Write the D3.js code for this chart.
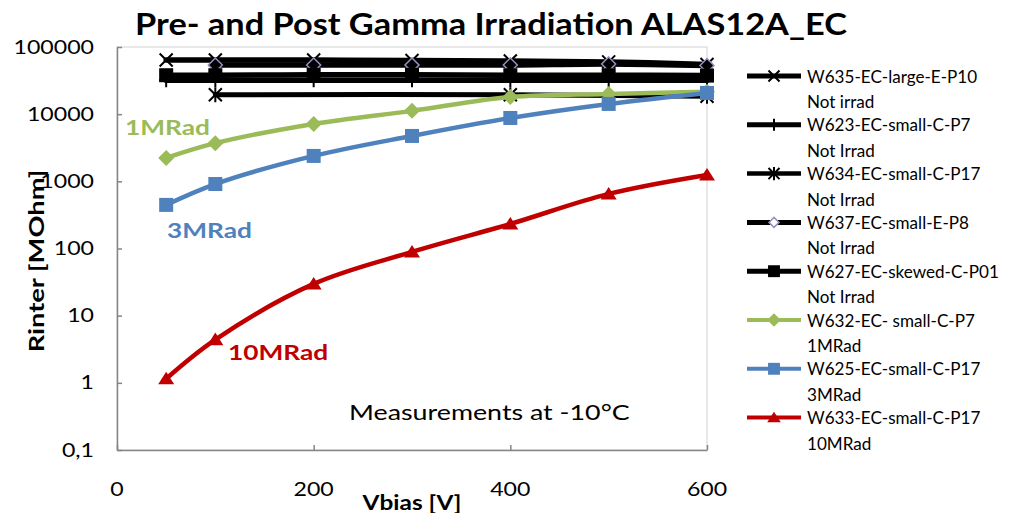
<!DOCTYPE html>
<html>
<head>
<meta charset="utf-8">
<script src="https://cdn.jsdelivr.net/npm/d3@7"></script>
<style>
  html, body { margin: 0; padding: 0; background: #fff; }
  svg { display: block; }
  text { font-family: Lato, "Open Sans", sans-serif; }
</style>
</head>
<body>
<svg id="chart" width="1021" height="513"></svg>
<script>
// Bias voltage points [V]
const voltages = [50, 100, 200, 300, 400, 500, 600];

// Inter-strip resistance [MOhm] per sample
const w635 = [64000, 64000, 64000, 63000, 62000, 60000, 55000];
const w623 = [32000, 32000, 32000, 32000, 32000, 32000, 32000];
const w634V = [100, 400, 600];
const w634 = [19500, 19500, 18500];
const w637V = [100, 200, 300, 400, 500, 600];
const w637 = [54000, 54000, 54000, 54000, 56000, 53000];
const w627 = [38000, 38000, 38500, 38500, 38000, 38000, 37500];
const w632 = [2230, 3700, 7150, 11200, 18000, 20000, 21500];
const w625 = [446, 912, 2390, 4740, 8780, 14200, 20700];
const w633 = [1.15, 4.4, 29.7, 89, 232, 650, 1245];

const seriesNames = [
  ["W635-EC-large-E-P10", "Not irrad"],
  ["W623-EC-small-C-P7", "Not Irrad"],
  ["W634-EC-small-C-P17", "Not Irrad"],
  ["W637-EC-small-E-P8", "Not Irrad"],
  ["W627-EC-skewed-C-P01", "Not Irrad"],
  ["W632-EC- small-C-P7", "1MRad"],
  ["W625-EC-small-C-P17", "3MRad"],
  ["W633-EC-small-C-P17", "10MRad"]
];

const xTicks = [0, 200, 400, 600];
const yTicks = [0.1, 1, 10, 100, 1000, 10000, 100000];
const yTickLabels = ["0,1", "1", "10", "100", "1000", "10000", "100000"];

const BLACK = "#000", GREEN = "#9BBB59", BLUE = "#4F81BD", RED = "#C00000", PURPLE = "#9C8DC2";

const series = [
  { name: seriesNames[0], xs: voltages, ys: w635, color: BLACK, marker: "x", width: 5.5 },
  { name: seriesNames[1], xs: voltages, ys: w623, color: BLACK, marker: "plus", width: 5.5 },
  { name: seriesNames[2], xs: w634V, ys: w634, color: BLACK, marker: "star", width: 5 },
  { name: seriesNames[3], xs: w637V, ys: w637, color: BLACK, marker: "diamondOutline", width: 5.5 },
  { name: seriesNames[4], xs: voltages, ys: w627, color: BLACK, marker: "square", width: 5.5 },
  { name: seriesNames[5], xs: voltages, ys: w632, color: GREEN, marker: "diamond", width: 4.5 },
  { name: seriesNames[6], xs: voltages, ys: w625, color: BLUE, marker: "square", width: 4.5 },
  { name: seriesNames[7], xs: voltages, ys: w633, color: RED, marker: "triangle", width: 4.5 }
];

const svg = d3.select("#chart");
const STRETCH = 1.25;

const x = d3.scaleLinear().domain([0, 600]).range([117, 707]);
const y = d3.scaleLog().domain([0.1, 100000]).range([450, 47]);

function label(parent, txt, px, py, opt = {}) {
  return parent.append("text")
    .attr("transform", `translate(${px},${py}) scale(${opt.stretch || STRETCH},1)`)
    .attr("text-anchor", opt.anchor || "start")
    .attr("font-size", opt.size || 18)
    .attr("font-weight", opt.weight || "normal")
    .attr("fill", opt.fill || "#000")
    .text(txt);
}

// Title
label(svg, "Pre- and Post Gamma Irradiation ALAS12A_EC", 491, 35, { anchor: "middle", size: 31, weight: "bold", stretch: 1.108 });

// Plot frame
svg.append("rect")
  .attr("x", 117).attr("y", 47).attr("width", 590).attr("height", 403)
  .attr("fill", "none").attr("stroke", "#d9d9d9").attr("stroke-width", 1.2);

// Axes
const yAxis = d3.axisLeft(y).tickValues(yTicks).tickSizeInner(-5).tickSizeOuter(0).tickFormat("");
const gy = svg.append("g").attr("transform", "translate(117,0)").call(yAxis);
const xAxis = d3.axisBottom(x).tickValues(xTicks).tickSizeInner(-5).tickSizeOuter(0).tickFormat("");
const gx = svg.append("g").attr("transform", "translate(0,450)").call(xAxis);
[gx, gy].forEach(g => {
  g.selectAll("path, line").attr("stroke", "#868686").attr("stroke-width", 1.5);
});

yTicks.forEach((v, i) => label(svg, yTickLabels[i], 94, y(v) + 6.5, { anchor: "end", size: 18.5 }));
xTicks.forEach(v => label(svg, String(v), x(v), 496, { anchor: "middle", size: 18.5 }));

// Axis titles
label(svg, "Vbias [V]", 412, 510, { anchor: "middle", size: 20, weight: "bold", stretch: 1.22 });
svg.append("text")
  .attr("transform", `translate(44,261) rotate(-90) scale(1.3,1)`)
  .attr("text-anchor", "middle").attr("font-size", 21).attr("font-weight", "bold")
  .text("Rinter [MOhm]");

// Markers
function drawMarker(g, kind, cx, cy, color, legend) {
  const s = legend ? 0.85 : 1;
  if (kind === "x") {
    const h = 6.5 * s;
    g.append("path").attr("d", `M${cx - h},${cy - h}L${cx + h},${cy + h}M${cx - h},${cy + h}L${cx + h},${cy - h}`)
      .attr("stroke", color).attr("stroke-width", 2).attr("fill", "none");
  } else if (kind === "plus") {
    const h = 7 * s;
    g.append("path").attr("d", `M${cx - h},${cy}L${cx + h},${cy}M${cx},${cy - h}L${cx},${cy + h}`)
      .attr("stroke", color).attr("stroke-width", 2).attr("fill", "none");
  } else if (kind === "star") {
    const h = 6.5 * s;
    g.append("path").attr("d", `M${cx - h},${cy - h}L${cx + h},${cy + h}M${cx - h},${cy + h}L${cx + h},${cy - h}M${cx},${cy - h - 1}L${cx},${cy + h + 1}`)
      .attr("stroke", color).attr("stroke-width", 2).attr("fill", "none");
  } else if (kind === "diamondOutline") {
    const h = legend ? 5 : 7;
    g.append("path").attr("d", `M${cx},${cy - h}L${cx + h},${cy}L${cx},${cy + h}L${cx - h},${cy}Z`)
      .attr("stroke", PURPLE).attr("stroke-width", 1.5).attr("fill", legend ? "#fff" : "#000");
  } else if (kind === "diamond") {
    const w = 8 * s, h = 8 * s;
    g.append("path").attr("d", `M${cx},${cy - h}L${cx + w},${cy}L${cx},${cy + h}L${cx - w},${cy}Z`)
      .attr("fill", color);
  } else if (kind === "square") {
    const h = 7 * s;
    g.append("rect").attr("x", cx - h).attr("y", cy - h).attr("width", 2 * h).attr("height", 2 * h)
      .attr("fill", color);
  } else if (kind === "triangle") {
    const w = 8 * s, h = 7 * s;
    g.append("path").attr("d", `M${cx},${cy - h}L${cx + w},${cy + h * 0.8}L${cx - w},${cy + h * 0.8}Z`)
      .attr("fill", color);
  }
}

// Series lines and markers
const line = d3.line().curve(d3.curveCatmullRom.alpha(0.5));
const plot = svg.append("g");
series.forEach(s => {
  const pts = s.xs.map((v, i) => [x(v), y(s.ys[i])]);
  const g = plot.append("g");
  g.append("path").attr("d", line(pts)).attr("fill", "none")
    .attr("stroke", s.color).attr("stroke-width", s.width).attr("stroke-linejoin", "round").attr("stroke-linecap", "round");
  pts.forEach(p => drawMarker(g, s.marker, p[0], p[1], s.color, false));
});

// Annotations
label(svg, "1MRad", 125, 135, { size: 21, weight: "bold", fill: GREEN });
label(svg, "3MRad", 167, 238, { size: 21, weight: "bold", fill: BLUE });
label(svg, "10MRad", 228, 360, { size: 21, weight: "bold", fill: RED });
label(svg, "Measurements at -10°C", 349, 420, { size: 22, stretch: 1.22 });

// Legend
const legend = svg.append("g");
series.forEach((s, i) => {
  const ly = 76 + i * 48.8;
  legend.append("line").attr("x1", 747).attr("x2", 801).attr("y1", ly).attr("y2", ly)
    .attr("stroke", s.color).attr("stroke-width", s.width - 0.5);
  drawMarker(legend, s.marker, 774, ly, s.color, true);
  label(legend, s.name[0], 807, ly + 6.5, { size: 18, stretch: 0.95 });
  label(legend, s.name[1], 807, ly + 32, { size: 18, stretch: 0.95 });
});
</script>
</body>
</html>
